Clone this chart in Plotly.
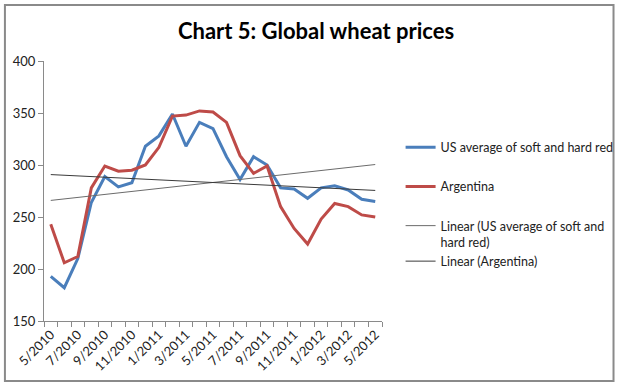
import numpy as np
import plotly.graph_objects as go

months = ["5/2010", "6/2010", "7/2010", "8/2010", "9/2010", "10/2010", "11/2010", "12/2010",
          "1/2011", "2/2011", "3/2011", "4/2011", "5/2011", "6/2011", "7/2011", "8/2011",
          "9/2011", "10/2011", "11/2011", "12/2011", "1/2012", "2/2012", "3/2012", "4/2012", "5/2012"]
us_prices = [193, 182, 210, 264, 289, 279, 283, 318, 328, 349, 318, 341, 335, 308, 286, 308,
             300, 278, 277, 268, 278, 280, 276, 267, 265]
argentina_prices = [243, 206, 212, 278, 299, 294, 295, 300, 317, 347, 348, 352, 351, 341, 309, 292,
                    299, 260, 239, 224, 248, 263, 260, 252, 250]
y_ticks = [150, 200, 250, 300, 350, 400]

x = np.arange(len(months))
us_fit = np.polyval(np.polyfit(x, us_prices, 1), x)
ar_fit = np.polyval(np.polyfit(x, argentina_prices, 1), x)

font = "Lato"
fig = go.Figure()
fig.add_trace(go.Scatter(x=x, y=us_prices, mode="lines", name="US average of soft and hard red",
                         line=dict(color="#4A7EBB", width=3), legendgroup="a"))
fig.add_trace(go.Scatter(x=x, y=argentina_prices, mode="lines", name="Argentina",
                         line=dict(color="#BE4B48", width=3), legendgroup="b"))
fig.add_trace(go.Scatter(x=x, y=us_fit, mode="lines", name="Linear (US average of soft and<br>hard red)",
                         line=dict(color="#6b6b6b", width=1), legendgroup="c"))
fig.add_trace(go.Scatter(x=x, y=ar_fit, mode="lines", name="Linear (Argentina)",
                         line=dict(color="#3a3a3a", width=1), legendgroup="c"))

fig.update_layout(
    width=631, height=385,
    margin=dict(l=44, r=241, t=61, b=64),
    paper_bgcolor="white", plot_bgcolor="white",
    font=dict(family=font, color="#222222"),
    title=dict(text="<b>Chart 5: Global wheat prices</b>", x=316 / 631, xref="container", xanchor="center",
               y=1 - 31 / 385, yanchor="middle", yref="container",
               font=dict(size=22, family=font, color="#000000")),
    legend=dict(x=1.055, xanchor="left", y=0.725, yanchor="top", valign="top",
                font=dict(size=12.5, family=font, color="#222222"),
                tracegroupgap=20, traceorder="grouped", bgcolor="rgba(0,0,0,0)"),
    showlegend=True,
    shapes=[dict(type="rect", xref="paper", yref="paper",
                 x0=(4 - 44) / 346, x1=(627 - 44) / 346,
                 y0=(321 - 381) / 260, y1=(321 - 5) / 260,
                 line=dict(color="#8a8a8a", width=2), fillcolor="rgba(0,0,0,0)", layer="below")],
)
fig.update_xaxes(range=[-0.5, len(months) - 0.5], tickmode="array",
                 tickvals=x[::2], ticktext=months[::2], tickangle=-45, ticks="",
                 tickfont=dict(size=13, family=font, color="#222222"),
                 showline=True, linecolor="#8a8a8a", linewidth=1, showgrid=False, zeroline=False,
                 minor=dict(tickmode="array", tickvals=list(np.arange(-0.5, len(months), 1.0)),
                            ticks="outside", ticklen=5, tickcolor="#8a8a8a", showgrid=False))
fig.update_yaxes(range=[150, 400], tickmode="array", tickvals=y_ticks, ticks="outside", ticklen=5,
                 tickcolor="#8a8a8a", tickfont=dict(size=13, family=font, color="#222222"),
                 showline=True, linecolor="#8a8a8a", linewidth=1, showgrid=False, zeroline=False)

fig.write_html("out.html", config={"displayModeBar": False},
               post_script="document.body.style.margin='0';")
